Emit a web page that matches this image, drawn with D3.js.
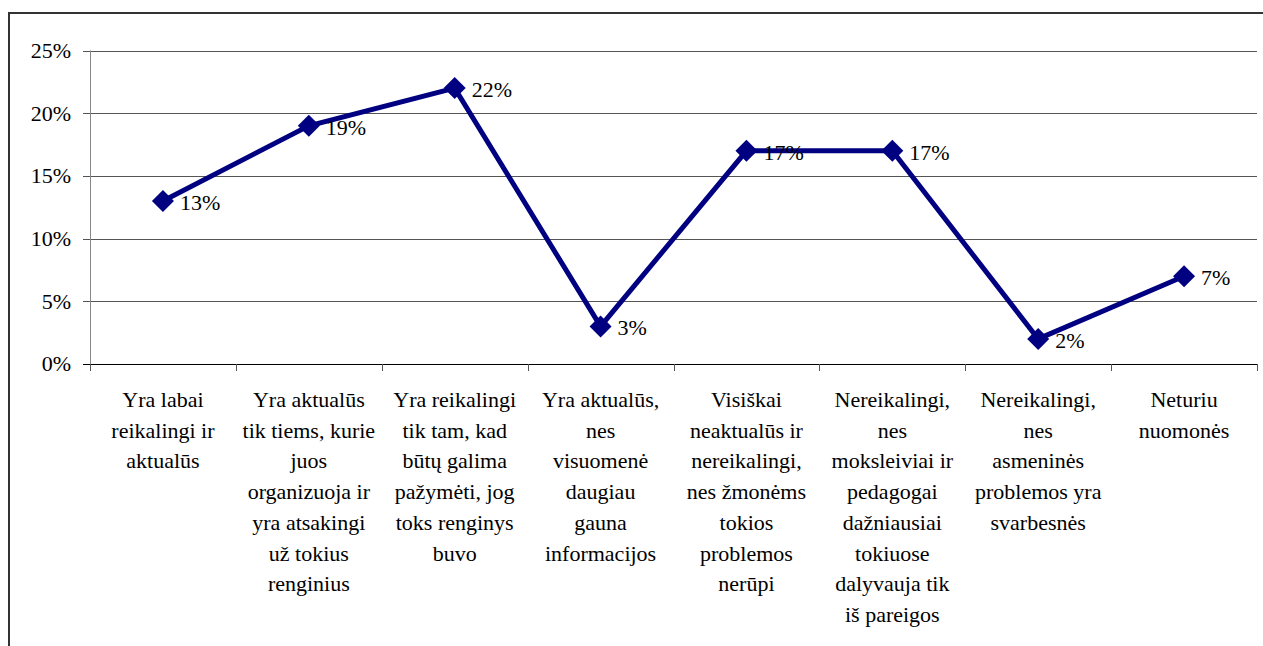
<!DOCTYPE html>
<html>
<head>
<meta charset="utf-8">
<script src="https://cdn.jsdelivr.net/npm/d3@7"></script>
</head>
<body style="margin:0">
<script>
// category labels, already broken into lines as in the original
var categories = [
  ["Yra labai", "reikalingi ir", "aktualūs"],
  ["Yra aktualūs", "tik tiems, kurie", "juos", "organizuoja ir", "yra atsakingi", "už tokius", "renginius"],
  ["Yra reikalingi", "tik tam, kad", "būtų galima", "pažymėti, jog", "toks renginys", "buvo"],
  ["Yra aktualūs,", "nes", "visuomenė", "daugiau", "gauna", "informacijos"],
  ["Visiškai", "neaktualūs ir", "nereikalingi,", "nes žmonėms", "tokios", "problemos", "nerūpi"],
  ["Nereikalingi,", "nes", "moksleiviai ir", "pedagogai", "dažniausiai", "tokiuose", "dalyvauja tik", "iš pareigos"],
  ["Nereikalingi,", "nes", "asmeninės", "problemos yra", "svarbesnės"],
  ["Neturiu", "nuomonės"]
];
var values = [13, 19, 22, 3, 17, 17, 2, 7];
var yTicks = [0, 5, 10, 15, 20, 25];

var FONT = "Liberation Serif";
var width = 1263, height = 646;
var margin = { top: 50.5, left: 90, right: 6, bottom: 282 };

var svg = d3.select("body").append("svg")
  .attr("width", width)
  .attr("height", height);

// outer frame (runs off the bottom/right of the picture)
svg.append("rect")
  .attr("x", 9).attr("y", 13)
  .attr("width", 1300).attr("height", 700)
  .attr("fill", "none")
  .attr("stroke", "#333")
  .attr("stroke-width", 2);

var x = d3.scaleBand()
  .domain(d3.range(values.length))
  .range([margin.left, width - margin.right]);

var y = d3.scaleLinear()
  .domain([0, 25])
  .range([height - margin.bottom, margin.top]);

// gridlines
svg.append("g")
  .selectAll("line")
  .data(yTicks.filter(function (d) { return d > 0; }))
  .enter().append("line")
  .attr("x1", margin.left - 7)
  .attr("x2", width - margin.right)
  .attr("y1", function (d) { return Math.round(y(d)) + 0.5; })
  .attr("y2", function (d) { return Math.round(y(d)) + 0.5; })
  .attr("stroke", "#555")
  .attr("stroke-width", 1);

// y axis line and ticks
svg.append("line")
  .attr("x1", margin.left + 0.5).attr("x2", margin.left + 0.5)
  .attr("y1", y(25)).attr("y2", y(0))
  .attr("stroke", "#888");
svg.append("g").selectAll("text")
  .data(yTicks).enter().append("text")
  .attr("x", margin.left - 19)
  .attr("y", function (d) { return y(d); })
  .attr("dy", "0.34em")
  .attr("text-anchor", "end")
  .attr("font-family", FONT)
  .attr("font-size", 22)
  .text(function (d) { return d + "%"; });

// x axis line and ticks at category boundaries
var bounds = d3.range(values.length + 1).map(function (i) {
  return margin.left + i * x.step();
});
svg.append("line")
  .attr("x1", margin.left - 7).attr("x2", width - margin.right)
  .attr("y1", Math.round(y(0)) + 0.5).attr("y2", Math.round(y(0)) + 0.5)
  .attr("stroke", "#000");
svg.append("g").selectAll("line")
  .data(bounds).enter().append("line")
  .attr("x1", function (d) { return Math.round(d) + 0.5; })
  .attr("x2", function (d) { return Math.round(d) + 0.5; })
  .attr("y1", y(0)).attr("y2", y(0) + 7)
  .attr("stroke", "#555");

// category labels
var lab = svg.append("g").selectAll("text")
  .data(categories).enter().append("text")
  .attr("text-anchor", "middle")
  .attr("font-family", FONT)
  .attr("font-size", 22)
  .attr("transform", function (d, i) {
    return "translate(" + (x(i) + x.bandwidth() / 2) + "," + (y(0) + 43) + ")";
  });
lab.selectAll("tspan")
  .data(function (d) { return d; })
  .enter().append("tspan")
  .attr("x", 0)
  .attr("y", function (d, j) { return j * 30.7; })
  .text(function (d) { return d; });

// the line
var line = d3.line()
  .x(function (d, i) { return x(i) + x.bandwidth() / 2; })
  .y(function (d) { return y(d); });

svg.append("path")
  .datum(values)
  .attr("d", line)
  .attr("fill", "none")
  .attr("stroke", "#000080")
  .attr("stroke-width", 5)
  .attr("stroke-linejoin", "miter");

// diamond markers
svg.append("g").selectAll("path")
  .data(values).enter().append("path")
  .attr("d", "M0,-11L11,0L0,11L-11,0Z")
  .attr("fill", "#000080")
  .attr("transform", function (d, i) {
    return "translate(" + (x(i) + x.bandwidth() / 2) + "," + y(d) + ")";
  });

// value labels
svg.append("g").selectAll("text")
  .data(values).enter().append("text")
  .attr("x", function (d, i) { return x(i) + x.bandwidth() / 2 + 17; })
  .attr("y", function (d) { return y(d); })
  .attr("dy", "0.4em")
  .attr("font-family", FONT)
  .attr("font-size", 22)
  .text(function (d) { return d + "%"; });
</script>
</body>
</html>
